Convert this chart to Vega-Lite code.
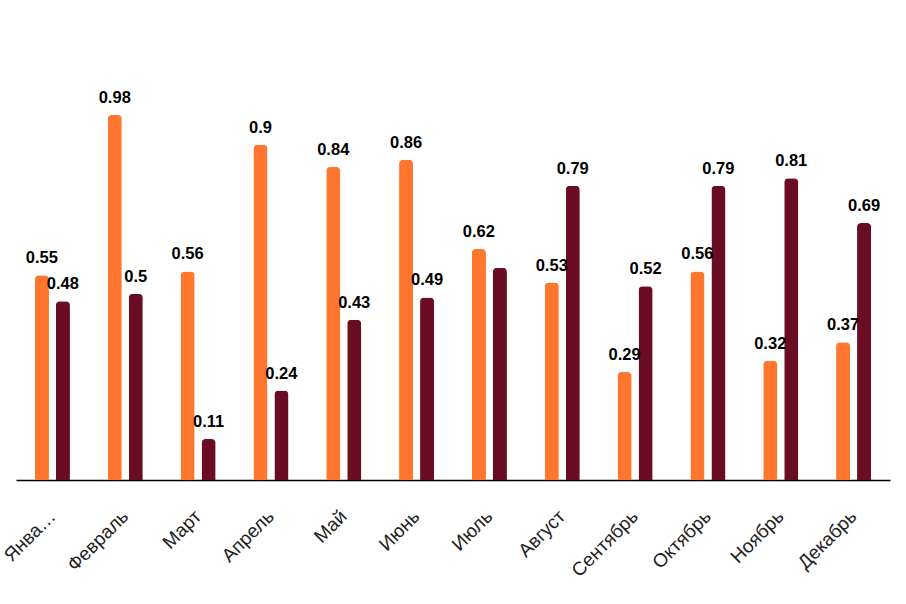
{
  "$schema": "https://vega.github.io/schema/vega-lite/v6.json",
  "autosize": {"type": "none"},
  "width": 874,
  "height": 447,
  "padding": {"left": 16, "top": 33, "right": 16, "bottom": 124},
  "background": "white",
  "config": {"view": {"stroke": null}, "font": "Liberation Sans"},
  "data": {
    "values": [
      {"month": "Январь", "series": "A", "value": 0.55, "show": 1},
      {"month": "Январь", "series": "B", "value": 0.48, "show": 1},
      {"month": "Февраль", "series": "A", "value": 0.98, "show": 1},
      {"month": "Февраль", "series": "B", "value": 0.5, "show": 1},
      {"month": "Март", "series": "A", "value": 0.56, "show": 1},
      {"month": "Март", "series": "B", "value": 0.11, "show": 1},
      {"month": "Апрель", "series": "A", "value": 0.9, "show": 1},
      {"month": "Апрель", "series": "B", "value": 0.24, "show": 1},
      {"month": "Май", "series": "A", "value": 0.84, "show": 1},
      {"month": "Май", "series": "B", "value": 0.43, "show": 1},
      {"month": "Июнь", "series": "A", "value": 0.86, "show": 1},
      {"month": "Июнь", "series": "B", "value": 0.49, "show": 1},
      {"month": "Июль", "series": "A", "value": 0.62, "show": 1},
      {"month": "Июль", "series": "B", "value": 0.57, "show": 0},
      {"month": "Август", "series": "A", "value": 0.53, "show": 1},
      {"month": "Август", "series": "B", "value": 0.79, "show": 1},
      {"month": "Сентябрь", "series": "A", "value": 0.29, "show": 1},
      {"month": "Сентябрь", "series": "B", "value": 0.52, "show": 1},
      {"month": "Октябрь", "series": "A", "value": 0.56, "show": 1},
      {"month": "Октябрь", "series": "B", "value": 0.79, "show": 1},
      {"month": "Ноябрь", "series": "A", "value": 0.32, "show": 1},
      {"month": "Ноябрь", "series": "B", "value": 0.81, "show": 1},
      {"month": "Декабрь", "series": "A", "value": 0.37, "show": 1},
      {"month": "Декабрь", "series": "B", "value": 0.69, "show": 1}
    ]
  },
  "encoding": {
    "x": {
      "field": "month",
      "type": "nominal",
      "sort": null,
      "scale": {"paddingInner": 0, "paddingOuter": 0},
      "axis": {
        "title": null,
        "domainColor": "#000000",
        "domainWidth": 1.5,
        "ticks": false,
        "labelAngle": -45,
        "labelAlign": "right",
        "labelBaseline": "middle",
        "labelPadding": 33,
        "labelFontSize": 19,
        "labelColor": "#222222",
        "labelFont": "Liberation Sans",
        "labelExpr": "datum.label == 'Январь' ? 'Янва…' : datum.label"
      }
    },
    "xOffset": {
      "field": "series",
      "type": "nominal",
      "scale": {"paddingInner": 0.33, "paddingOuter": 0.9}
    },
    "y": {
      "field": "value",
      "type": "quantitative",
      "scale": {"domain": [0, 1.2]},
      "axis": null
    }
  },
  "layer": [
    {
      "mark": {"type": "bar", "cornerRadiusEnd": 4},
      "encoding": {
        "color": {
          "field": "series",
          "type": "nominal",
          "scale": {"domain": ["A", "B"], "range": ["#FF762F", "#6A0D23"]},
          "legend": null
        }
      }
    },
    {
      "transform": [{"filter": "datum.show == 1"}],
      "mark": {
        "type": "text",
        "baseline": "bottom",
        "dy": -9,
        "fontSize": 16.5,
        "fontWeight": "bold",
        "color": "#000000",
        "font": "Liberation Sans"
      },
      "encoding": {"text": {"field": "value", "type": "quantitative"}}
    }
  ]
}
